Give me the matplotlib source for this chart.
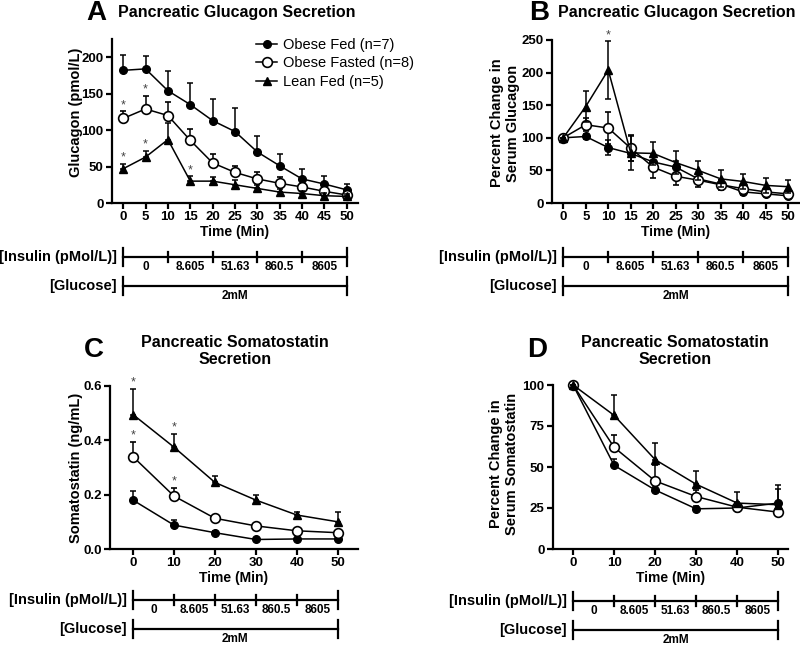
import numpy as np
import matplotlib
matplotlib.use("Agg")
import matplotlib.pyplot as plt
from matplotlib.lines import Line2D
import matplotlib.transforms as mtransforms

plt.rcParams['font.family'] = ['Liberation Sans', 'DejaVu Sans']

# ---------------- data ----------------
series_names = ["Obese Fed (n=7)", "Obese Fasted (n=8)", "Lean Fed (n=5)"]

time_ab = [0, 5, 10, 15, 20, 25, 30, 35, 40, 45, 50]
time_cd = [0, 10, 20, 30, 40, 50]

# Panel A: glucagon (pmol/L)
a_obese_fed = [182, 184, 154, 135, 113, 98, 70, 51, 33, 26, 18]
a_obese_fed_err = [21, 18, 27, 30, 30, 32, 22, 16, 13, 11, 8]
a_obese_fasted = [116, 129, 120, 86, 55, 42, 33, 27, 22, 16, 11]
a_obese_fasted_err = [10, 18, 19, 15, 12, 9, 10, 8, 8, 8, 6]
a_lean_fed = [47, 63, 87, 30, 30, 25, 20, 15, 13, 10, 9]
a_lean_fed_err = [7, 9, 23, 7, 6, 6, 5, 4, 4, 4, 3]

# Panel B: percent change glucagon
b_obese_fed = [100, 102, 85, 76, 63, 55, 37, 29, 17, 14, 11]
b_obese_fed_err = [0, 4, 12, 12, 10, 10, 8, 6, 4, 4, 3]
b_obese_fasted = [100, 120, 115, 84, 55, 41, 35, 28, 22, 17, 14]
b_obese_fasted_err = [0, 10, 24, 20, 17, 13, 11, 8, 6, 5, 4]
b_lean_fed = [100, 148, 204, 77, 76, 62, 50, 37, 33, 27, 25]
b_lean_fed_err = [0, 24, 44, 26, 18, 18, 15, 13, 11, 11, 10]

# Panel C: somatostatin (ng/mL)
c_obese_fed = [0.180, 0.088, 0.060, 0.035, 0.037, 0.037]
c_obese_fed_err = [0.035, 0.017, 0.008, 0.004, 0.004, 0.003]
c_obese_fasted = [0.340, 0.195, 0.113, 0.085, 0.067, 0.060]
c_obese_fasted_err = [0.055, 0.030, 0.007, 0.005, 0.004, 0.004]
c_lean_fed = [0.495, 0.375, 0.245, 0.180, 0.125, 0.100]
c_lean_fed_err = [0.095, 0.050, 0.025, 0.020, 0.013, 0.038]

# Panel D: percent change somatostatin
d_obese_fed = [100, 51, 36, 24.5, 25, 28]
d_obese_fed_err = [0, 4, 2, 2, 2, 8.5]
d_obese_fasted = [100, 62, 41.5, 32, 25.5, 22.5]
d_obese_fasted_err = [0, 7.5, 10, 4, 3, 3]
d_lean_fed = [100, 81.5, 54.5, 39.5, 28, 27]
d_lean_fed_err = [0, 12.5, 10, 8, 7, 12]

insulin_bounds = [0, 10, 20, 30, 40, 50]
insulin_labels = ["0", "8.605", "51.63", "860.5", "8605"]
glucose_label = "2mM"

# significance stars: (series index, x)
a_stars = [(1, 0), (1, 5), (2, 0), (2, 5), (2, 15)]
b_stars = [(2, 10)]
c_stars = [(2, 0), (2, 10), (1, 0), (1, 10)]
d_stars = []

# ---------------- figure ----------------
W, H = 800, 645
fig = plt.figure(figsize=(W / 100, H / 100), dpi=100)
fig.patch.set_facecolor("white")


def px_axes(left, right, top, bottom):
    return fig.add_axes([left / W, 1 - bottom / H, (right - left) / W, (bottom - top) / H])


def fy(ypx):
    return 1 - ypx / H


styles = [
    dict(marker="o", ms=5.5, mfc="black", mec="black"),
    dict(marker="o", ms=7, mfc="white", mec="black", mew=1.2),
    dict(marker="^", ms=5.5, mfc="black", mec="black"),
]


def style_axes(ax, xlim, ylim, xticks, yticks, yfmt=None):
    ax.set_xlim(*xlim)
    ax.set_ylim(*ylim)
    for s in ["top", "right"]:
        ax.spines[s].set_visible(False)
    for s in ["left", "bottom"]:
        ax.spines[s].set_linewidth(1.6)
    ax.set_xticks(xticks)
    ax.set_yticks(yticks)
    if yfmt:
        ax.set_yticklabels([yfmt.format(v) for v in yticks])
    ax.tick_params(width=1.6, length=4, labelsize=9.5, pad=2)
    for lab in ax.get_xticklabels() + ax.get_yticklabels():
        lab.set_fontweight("bold")


def plot_series(ax, x, ys, errs, both=False, stars=()):
    for i, (y, e) in enumerate(zip(ys, errs)):
        y = np.asarray(y, float)
        e = np.asarray(e, float)
        yerr = e if both else [np.zeros_like(e), e]
        ax.errorbar(x, y, yerr=yerr, color="black", lw=1.1, elinewidth=1.1,
                    capsize=2.5, capthick=1.1, zorder=2 + i, clip_on=False,
                    **styles[i])
    for (i, xv) in stars:
        idx = list(x).index(xv)
        top = ys[i][idx] + errs[i][idx]
        ax.annotate("*", xy=(xv, top), xytext=(0, 0), textcoords="offset points",
                    ha="center", va="bottom", fontsize=9, color="#444444")


def conditions(ax, y_ins, y_glu, label_gap=6):
    tr = mtransforms.blended_transform_factory(ax.transData, fig.transFigure)
    lw = 1.6
    # insulin
    fig.add_artist(Line2D([insulin_bounds[0], insulin_bounds[-1]], [fy(y_ins)] * 2,
                          transform=tr, color="black", lw=lw))
    for b in insulin_bounds:
        h = 9 if b in (insulin_bounds[0], insulin_bounds[-1]) else 5
        fig.add_artist(Line2D([b, b], [fy(y_ins - h), fy(y_ins + h)], transform=tr,
                              color="black", lw=lw))
    for k, lab in enumerate(insulin_labels):
        xm = (insulin_bounds[k] + insulin_bounds[k + 1]) / 2
        fig.text(xm, fy(y_ins + 10), lab, transform=tr, ha="center", va="center",
                 fontsize=8.5, fontweight="bold")
    off = mtransforms.offset_copy(tr, fig=fig, x=-label_gap, units="dots")
    fig.text(insulin_bounds[0], fy(y_ins), "[Insulin (pMol/L)]", transform=off,
             ha="right", va="center", fontsize=10.5, fontweight="bold")
    # glucose
    g0, g1 = insulin_bounds[0], insulin_bounds[-1]
    fig.add_artist(Line2D([g0, g1], [fy(y_glu)] * 2, transform=tr, color="black", lw=lw))
    for b in (g0, g1):
        fig.add_artist(Line2D([b, b], [fy(y_glu - 9), fy(y_glu + 9)], transform=tr,
                              color="black", lw=lw))
    fig.text((g0 + g1) / 2, fy(y_glu + 10), glucose_label, transform=tr, ha="center",
             va="center", fontsize=8.5, fontweight="bold")
    fig.text(g0, fy(y_glu), "[Glucose]", transform=off, ha="right", va="center",
             fontsize=10.5, fontweight="bold")


# ---------------- Panel A ----------------
axA = px_axes(112, 358, 39, 203)
plot_series(axA, time_ab, [a_obese_fed, a_obese_fasted, a_lean_fed],
            [a_obese_fed_err, a_obese_fasted_err, a_lean_fed_err], stars=a_stars)
style_axes(axA, (-2.5, 52.5), (0, 225), time_ab, [0, 50, 100, 150, 200])
axA.set_ylabel("Glucagon (pmol/L)", fontsize=10.5, fontweight="bold")
axA.yaxis.set_label_coords(-0.118, 0.55)
axA.set_xlabel("Time (Min)", fontsize=10, fontweight="bold", labelpad=1)
handles = [Line2D([], [], color="black", lw=1.1, **st) for st in styles]
leg = axA.legend(handles, series_names, loc="upper left",
                 bbox_to_anchor=(256 / W, fy(38)),
                 bbox_transform=fig.transFigure, frameon=False, fontsize=10.5,
                 handlelength=1.45, handletextpad=0.4, labelspacing=0.3, borderpad=0,
                 borderaxespad=0)
conditions(axA, 257, 286)

# ---------------- Panel B ----------------
axB = px_axes(552, 799, 40, 203)
plot_series(axB, time_ab, [b_obese_fed, b_obese_fasted, b_lean_fed],
            [b_obese_fed_err, b_obese_fasted_err, b_lean_fed_err], both=True, stars=b_stars)
style_axes(axB, (-2.5, 52.4), (0, 250), time_ab, [0, 50, 100, 150, 200, 250])
axB.set_ylabel("Percent Change in\nSerum Glucagon", fontsize=10.5, fontweight="bold",
               linespacing=1.2)
axB.yaxis.set_label_coords(-0.13, 0.49)
axB.set_xlabel("Time (Min)", fontsize=10, fontweight="bold", labelpad=1)
conditions(axB, 257, 286)

# ---------------- Panel C ----------------
axC = px_axes(110, 358, 386, 549)
plot_series(axC, time_cd, [c_obese_fed, c_obese_fasted, c_lean_fed],
            [c_obese_fed_err, c_obese_fasted_err, c_lean_fed_err], stars=c_stars)
style_axes(axC, (-5.6, 54.9), (0, 0.6), time_cd, [0.0, 0.2, 0.4, 0.6], yfmt="{:.1f}")
axC.set_ylabel("Somatostatin (ng/mL)", fontsize=10.5, fontweight="bold")
axC.yaxis.set_label_coords(-0.108, 0.5)
axC.set_xlabel("Time (Min)", fontsize=10, fontweight="bold", labelpad=1)
conditions(axC, 600, 629)

# ---------------- Panel D ----------------
axD = px_axes(553, 788, 385, 549)
plot_series(axD, time_cd, [d_obese_fed, d_obese_fasted, d_lean_fed],
            [d_obese_fed_err, d_obese_fasted_err, d_lean_fed_err], stars=d_stars)
style_axes(axD, (-4.9, 52.4), (0, 100), time_cd, [0, 25, 50, 75, 100])
axD.set_ylabel("Percent Change in\nSerum Somatostatin", fontsize=10.5, fontweight="bold",
               linespacing=1.2)
axD.yaxis.set_label_coords(-0.145, 0.52)
axD.set_xlabel("Time (Min)", fontsize=10, fontweight="bold", labelpad=1)
conditions(axD, 601, 630)

# ---------------- Titles ----------------
def ftext(xpx, ypx, s, **kw):
    fig.text(xpx / W, fy(ypx), s, **kw)

ftext(96, 13, "A", fontsize=20, fontweight="bold", ha="center", va="center")
ftext(118, 13, "Pancreatic Glucagon Secretion", fontsize=11.5, fontweight="bold",
      ha="left", va="center")
ftext(539, 13, "B", fontsize=20, fontweight="bold", ha="center", va="center")
ftext(558, 13, "Pancreatic Glucagon Secretion", fontsize=11.5, fontweight="bold",
      ha="left", va="center")
ftext(94, 350, "C", fontsize=20, fontweight="bold", ha="center", va="center")
ftext(235, 351, "Pancreatic Somatostatin\nSecretion", fontsize=11.5, fontweight="bold",
      ha="center", va="center", linespacing=1.15)
ftext(537, 350, "D", fontsize=20, fontweight="bold", ha="center", va="center")
ftext(675, 351, "Pancreatic Somatostatin\nSecretion", fontsize=11.5, fontweight="bold",
      ha="center", va="center", linespacing=1.15)

fig.savefig("out.png", dpi=100, facecolor="white")
